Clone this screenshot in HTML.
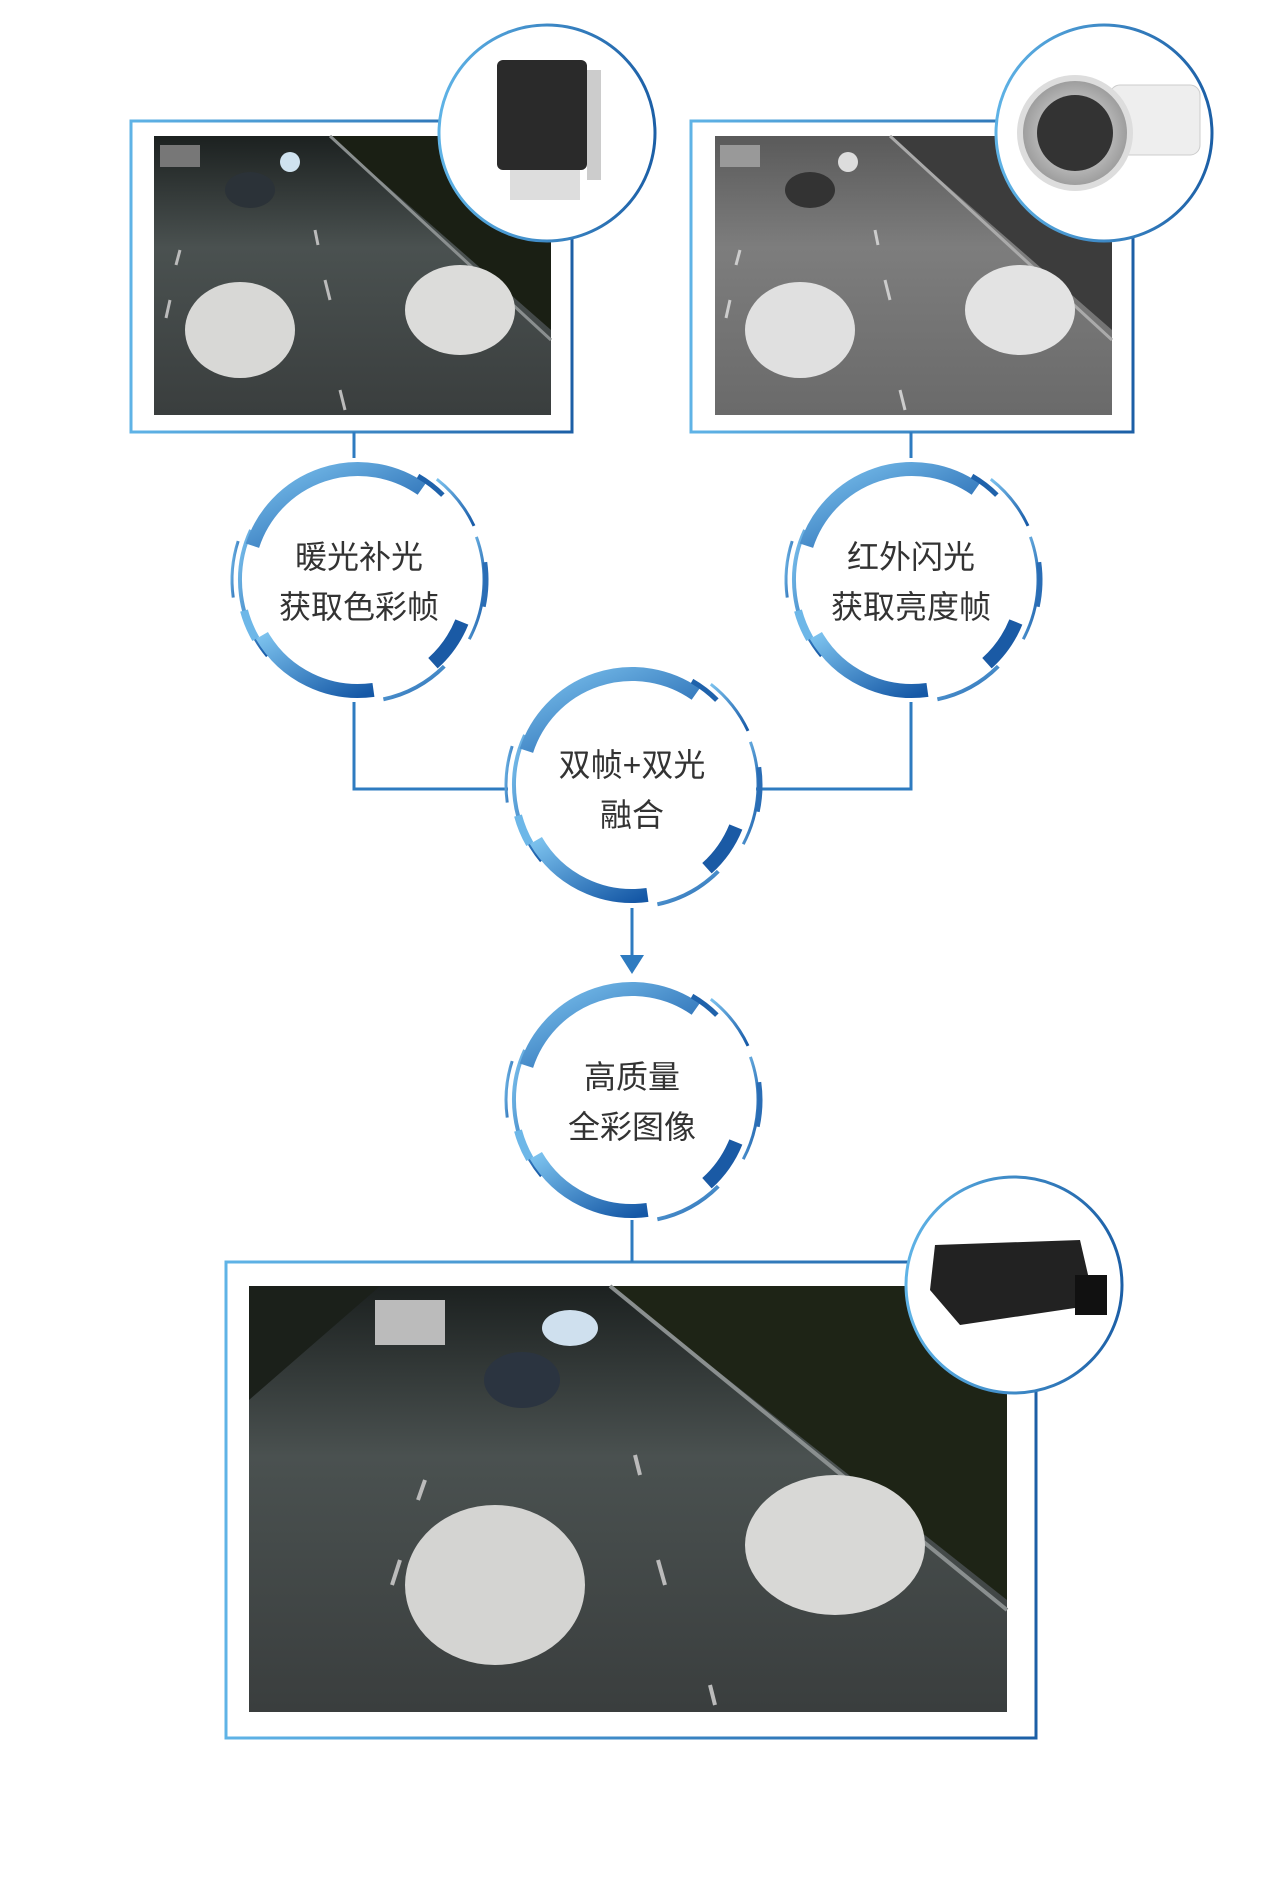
<!DOCTYPE html>
<html><head><meta charset="utf-8">
<style>
html,body{margin:0;padding:0;background:#fff;}
body{width:1267px;height:1903px;position:relative;overflow:hidden;font-family:"Liberation Sans","Noto Sans CJK SC",sans-serif;}
.lbl{position:absolute;text-align:center;color:#333;font-size:32px;line-height:50px;font-family:"Liberation Sans","Noto Sans CJK SC",sans-serif;}
</style></head><body>
<svg id="s" width="1267" height="1903" viewBox="0 0 1267 1903" xmlns="http://www.w3.org/2000/svg" style="position:absolute;left:0;top:0">
<defs>
<linearGradient id="g" x1="0" y1="0" x2="1" y2="1"><stop offset="0" stop-color="#7cc2ee"/><stop offset="1" stop-color="#1558a6"/></linearGradient>
<linearGradient id="gf" x1="0" y1="0" x2="1" y2="0"><stop offset="0" stop-color="#5fb3e6"/><stop offset="1" stop-color="#1c5fa6"/></linearGradient>
<linearGradient id="road1" x1="0" y1="0" x2="0" y2="1"><stop offset="0" stop-color="#1c2120"/><stop offset="0.4" stop-color="#4a5150"/><stop offset="1" stop-color="#3a3e3e"/></linearGradient>
<linearGradient id="road2" x1="0" y1="0" x2="0" y2="1"><stop offset="0" stop-color="#5a5a5a"/><stop offset="0.4" stop-color="#7d7d7d"/><stop offset="1" stop-color="#6a6a6a"/></linearGradient>
<radialGradient id="lamp" cx="0.5" cy="0.5" r="0.5"><stop offset="0" stop-color="#eee"/><stop offset="1" stop-color="#999"/></radialGradient>
</defs>
<rect x="131" y="121" width="441" height="311" fill="none" stroke="url(#gf)" stroke-width="3"/>
<rect x="691" y="121" width="442" height="311" fill="none" stroke="url(#gf)" stroke-width="3"/>
<rect x="226" y="1262" width="810" height="476" fill="none" stroke="url(#gf)" stroke-width="3"/>
<g>
<rect x="154" y="136" width="397" height="279" fill="url(#road1)"/>
<polygon points="330,136 551,136 551,330" fill="#1a1f14"/>
<line x1="330" y1="136" x2="551" y2="340" stroke="#8a8f8f" stroke-width="3"/>
<g stroke="#bbb" stroke-width="3"><line x1="180" y1="250" x2="176" y2="265"/><line x1="170" y1="300" x2="166" y2="318"/><line x1="325" y1="280" x2="330" y2="300"/><line x1="315" y1="230" x2="318" y2="245"/><line x1="340" y1="390" x2="345" y2="410"/></g>
<ellipse cx="240" cy="330" rx="55" ry="48" fill="#d8d8d6"/>
<ellipse cx="460" cy="310" rx="55" ry="45" fill="#dcdcda"/>
<ellipse cx="250" cy="190" rx="25" ry="18" fill="#2b3238"/>
<circle cx="290" cy="162" r="10" fill="#cfe2ef"/>
<rect x="160" y="145" width="40" height="22" fill="#777"/>
</g>
<g>
<rect x="715" y="136" width="397" height="279" fill="url(#road2)"/>
<polygon points="890,136 1112,136 1112,330" fill="#3c3c3c"/>
<line x1="890" y1="136" x2="1112" y2="340" stroke="#aaa" stroke-width="3"/>
<g stroke="#ccc" stroke-width="3"><line x1="740" y1="250" x2="736" y2="265"/><line x1="730" y1="300" x2="726" y2="318"/><line x1="885" y1="280" x2="890" y2="300"/><line x1="875" y1="230" x2="878" y2="245"/><line x1="900" y1="390" x2="905" y2="410"/></g>
<ellipse cx="800" cy="330" rx="55" ry="48" fill="#e0e0e0"/>
<ellipse cx="1020" cy="310" rx="55" ry="45" fill="#e3e3e3"/>
<ellipse cx="810" cy="190" rx="25" ry="18" fill="#333"/>
<circle cx="848" cy="162" r="10" fill="#ddd"/>
<rect x="720" y="145" width="40" height="22" fill="#999"/>
</g>
<g>
<rect x="249" y="1286" width="758" height="426" fill="url(#road1)"/>
<polygon points="610,1286 1007,1286 1007,1600" fill="#1e2416"/>
<line x1="610" y1="1286" x2="1007" y2="1610" stroke="#8a8f8f" stroke-width="4"/>
<polygon points="249,1286 380,1286 249,1400" fill="#1b201a"/>
<g stroke="#bbb" stroke-width="4"><line x1="425" y1="1480" x2="418" y2="1500"/><line x1="400" y1="1560" x2="392" y2="1585"/><line x1="635" y1="1455" x2="640" y2="1475"/><line x1="658" y1="1560" x2="665" y2="1585"/><line x1="710" y1="1685" x2="715" y2="1705"/></g>
<ellipse cx="495" cy="1585" rx="90" ry="80" fill="#d4d4d2"/>
<ellipse cx="835" cy="1545" rx="90" ry="70" fill="#d8d8d6"/>
<ellipse cx="522" cy="1380" rx="38" ry="28" fill="#2b3440"/>
<ellipse cx="570" cy="1328" rx="28" ry="18" fill="#cfe0ee"/>
<rect x="375" y="1300" width="70" height="45" fill="#bbb"/>
</g>
<circle cx="547" cy="133" r="108" fill="#fff" stroke="url(#gf)" stroke-width="3"/>
<rect x="497" y="60" width="90" height="110" rx="6" fill="#2a2a2a"/>
<rect x="587" y="70" width="14" height="110" fill="#ccc"/>
<rect x="510" y="170" width="70" height="30" fill="#ddd"/>
<circle cx="1104" cy="133" r="108" fill="#fff" stroke="url(#gf)" stroke-width="3"/>
<rect x="1110" y="85" width="90" height="70" rx="10" fill="#eee" stroke="#ccc"/>
<circle cx="1075" cy="133" r="55" fill="url(#lamp)" stroke="#ddd" stroke-width="6"/>
<circle cx="1075" cy="133" r="38" fill="#333"/>
<circle cx="1014" cy="1285" r="108" fill="#fff" stroke="url(#gf)" stroke-width="3"/>
<polygon points="935,1245 1080,1240 1095,1305 960,1325 930,1290" fill="#222"/>
<rect x="1075" y="1275" width="32" height="40" fill="#111"/>
<g stroke="#2e7bc0" stroke-width="3" fill="none">
<line x1="354" y1="432" x2="354" y2="458"/>
<line x1="911" y1="432" x2="911" y2="458"/>
<polyline points="354,702 354,789 508,789"/>
<polyline points="911,702 911,789 756,789"/>
<line x1="632" y1="908" x2="632" y2="960"/>
<line x1="632" y1="1220" x2="632" y2="1262"/>
</g>
<polygon points="620,955 644,955 632,974" fill="#2e7bc0"/>
<g id="rings"></g>
</svg>
<div class="lbl" style="left:259px;top:532px;width:200px">暖光补光<br>获取色彩帧</div>
<div class="lbl" style="left:811px;top:532px;width:200px">红外闪光<br>获取亮度帧</div>
<div class="lbl" style="left:532px;top:740px;width:200px">双帧+双光<br>融合</div>
<div class="lbl" style="left:532px;top:1052px;width:200px">高质量<br>全彩图像</div>
<script>
(function(){
var g=document.getElementById('rings');
var ns='http://www.w3.org/2000/svg';
function arc(cx,cy,r,a0,a1,w,col){
 var p=function(a){a=a*Math.PI/180;return [cx+r*Math.cos(a),cy+r*Math.sin(a)];};
 var s=p(a0),e=p(a1),large=((a1-a0+360)%360)>180?1:0;
 var el=document.createElementNS(ns,'path');
 el.setAttribute('d','M'+s[0]+' '+s[1]+' A'+r+' '+r+' 0 '+large+' 1 '+e[0]+' '+e[1]);
 el.setAttribute('stroke',col||'url(#g)');el.setAttribute('stroke-width',w);el.setAttribute('fill','none');
 g.appendChild(el);
}
function ring(cx,cy){
 var c=document.createElementNS(ns,'circle');c.setAttribute('cx',cx);c.setAttribute('cy',cy);c.setAttribute('r',118);c.setAttribute('fill','#fff');g.appendChild(c);
 arc(cx,cy,118,140,205,4);
 arc(cx,cy,111,198,305,14);
 arc(cx,cy,120,300,315,5,'#1f62ab');
 arc(cx,cy,128,308,335,3);
 arc(cx,cy,126,340,28,3);
 arc(cx,cy,128,-8,12,5,'#2a6db5');
 arc(cx,cy,112,22,48,14,'#1a5aa5');
 arc(cx,cy,122,45,78,4);
 arc(cx,cy,111,82,150,14);
 arc(cx,cy,118,150,165,8,'#6db7e8');
 arc(cx,cy,126,172,198,3);
}
ring(358,580);ring(912,580);ring(632,785);ring(632,1100);
})();
</script>
</body></html>
